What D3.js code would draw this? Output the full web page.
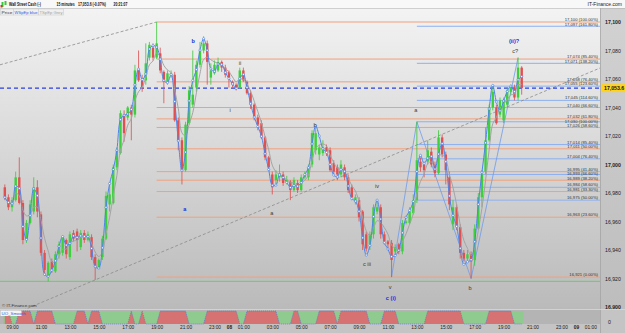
<!DOCTYPE html>
<html>
<head>
<meta charset="utf-8">
<script src="https://cdn.jsdelivr.net/npm/d3@7"></script>
<style>
  body { margin: 0; background: #fff; }
  svg { display: block; font-family: "Liberation Sans", "DejaVu Sans", sans-serif; }
</style>
</head>
<body>
<div id="chart"></div>
<script>
// ---- data ----
var startTime = new Date(2016, 2, 7, 8, 30);   // first 15 min candle
var stepMinutes = 15;

var openP = [
  16984,16977,16970,16975,16991,16973,16947,16959,16967,16984,16965,16938,
  16922,16932,16925,16937,16938,16947,16935,16952,16953,16942,16952,16947,
  16949,16935,16928,16935,16948,16972,16973,16998,17008,17035,17033,17040,
  17035,17066,17059,17059,17075,17082,17075,17078,17065,17058,17063,17063,
  17031,17017,16996,17029,17042,17054,17070,17080,17085,17061,17064,17066,
  17072,17068,17065,17058,17056,17054,17066,17058,17050,17042,17033,17029,
  17019,17005,16993,16989,16991,16993,16988,16988,16982,16987,16982,16991,
  16991,17000,17010,17007,17008,17012,17010,17001,16998,16993,16998,16991,
  16984,16974,16975,16967,16951,16944,16951,16967,16970,16951,16946,16945,
  16939,16944,16939,16959,16959,16966,16975,17002,17000,17002,17009,17000,
  16994,17019,17007,16991,16958,16970,16956,16938,16934,16937,16933,16955,
  16977,16995,17017,17040,17040,17035,17031,17042,17051,17054,17047,17068
];
var highP = [
  16986,16979,16977,16995,17005,16975,16961,16975,16991,16989,16967,16940,
  16932,16934,16939,16946,16950,16948,16953,16954,16955,16954,16954,16953,
  16951,16937,16934,16950,16981,16986,17000,17012,17038,17038,17041,17042,
  17070,17080,17063,17085,17086,17085,17100,17082,17066,17066,17066,17065,
  17033,17019,17030,17055,17080,17073,17086,17090,17087,17071,17073,17075,
  17073,17070,17066,17059,17057,17068,17068,17059,17052,17043,17035,17031,
  17020,17006,16995,16996,17000,16995,16992,16989,16991,16989,16993,16995,
  17000,17024,17026,17014,17017,17014,17012,17003,17000,17003,17000,16993,
  16986,16979,16977,16968,16953,16953,16972,16975,16972,16953,16947,16947,
  16944,16945,16961,16961,16970,16979,17030,17005,17002,17017,17012,17002,
  17024,17021,17009,16995,16975,16972,16958,16940,16940,16939,16958,16980,
  16996,17026,17042,17054,17042,17047,17047,17054,17056,17056,17075,17069
];
var lowP = [
  16975,16968,16967,16974,16972,16944,16945,16958,16965,16963,16936,16922,
  16918,16924,16924,16934,16936,16934,16933,16946,16939,16940,16945,16946,
  16933,16919,16927,16933,16947,16967,16972,16996,17007,17016,17031,17017,
  17033,17058,17051,17056,17073,17073,17074,17064,17043,17056,17061,17030,
  17010,16986,16995,17028,17040,17051,17068,17078,17056,17056,17063,17065,
  17065,17061,17054,17054,17052,17053,17058,17049,17039,17031,17024,17018,
  17003,16996,16979,16986,16988,16985,16986,16975,16981,16980,16981,16990,
  16989,16998,17007,17003,17006,17006,16995,16993,16989,16991,16989,16980,
  16975,16972,16960,16940,16939,16940,16948,16965,16948,16944,16941,16921,
  16937,16937,16937,16958,16958,16965,16973,16995,16991,17000,16998,16991,
  16993,17005,16986,16968,16954,16954,16934,16932,16932,16920,16929,16954,
  16970,16993,17016,17038,17028,17033,17029,17040,17049,17045,17045,17049
];
var closeP = [
  16977,16970,16975,16991,16973,16947,16959,16972,16984,16967,16938,16926,
  16931,16926,16937,16944,16948,16937,16951,16948,16947,16952,16947,16951,
  16935,16928,16933,16948,16978,16979,16998,17010,17036,17022,17040,17035,
  17066,17059,17054,17071,17084,17075,17085,17066,17058,17064,17064,17031,
  17017,16996,17028,17052,17049,17070,17080,17085,17072,17066,17070,17072,
  17068,17063,17061,17056,17054,17066,17059,17050,17042,17033,17028,17019,
  17005,16998,16984,16993,16994,16987,16989,16982,16989,16982,16991,16993,
  16998,17022,17022,17012,17012,17009,16996,16995,16993,17000,16991,16982,
  16977,16977,16963,16944,16941,16951,16970,16970,16951,16946,16944,16933,
  16942,16939,16959,16960,16967,16975,17003,16998,16996,17010,17000,16994,
  17019,17007,16996,16972,16970,16956,16938,16934,16937,16932,16955,16977,
  16993,17017,17040,17051,17029,17045,17045,17052,17054,17047,17068,17053.6
];

// UO_Smooth state per candle: 1 = red block, 0 = green
var uoState = [
  1,1,0,0,1,1,1,1,0,1,1,1,1,1,0,0,0,0,0,0,1,1,1,0,
  1,1,1,0,0,0,0,0,0,0,0,1,0,0,1,0,0,0,0,1,1,1,1,1,
  1,1,1,0,0,0,0,0,1,1,1,1,1,1,1,1,1,0,0,1,1,1,1,1,
  1,1,1,1,0,0,0,0,1,1,0,0,0,0,0,1,1,1,1,1,0,1,1,1,
  1,1,1,1,1,0,0,0,0,1,1,1,1,0,0,0,0,0,0,0,0,1,1,1,
  1,1,1,1,1,1,1,0,0,0,0,0,0,0,1,1,1,1,1,1,1,0,0,0
];

var priceTicks = [17100, 17080, 17060, 17040, 17020, 17000, 16980, 16960, 16940, 16920, 16900];
var boldTicks = [17100, 17000, 16900];
var lastPrice = 17053.6;

// fibonacci levels: [price, label]
var orangeLevels = [
  [17100, "17,100 (100.00%)"], [17074, "17,074 (85.40%)"], [17058, "17,058 (76.40%)"],
  [17040, "17,040 (66.60%)"], [17032, "17,032 (61.80%)"], [17026, "17,026 (58.60%)"],
  [17011, "17,011 (50.00%)"], [16995, "16,995 (41.40%)"], [16989, "16,989 (38.20%)"],
  [16981, "16,981 (33.30%)"], [16963, "16,963 (23.60%)"], [16921, "16,921 (0.00%)"]
];
var orangeStart = 42;   // candle index of the high
var blueLevels = [
  [17097, "17,097 (161.80%)"], [17071, "17,071 (138.20%)"], [17055, "17,055 (123.60%)"],
  [17045, "17,045 (114.60%)"], [17030, "17,030 (100.00%)"], [17014, "17,014 (85.40%)"],
  [17004, "17,004 (76.40%)"], [16993, "16,993 (66.60%)"], [16984, "16,984 (58.60%)"],
  [16975, "16,975 (50.00%)"]
];
var blueStart = 114;
var supportLevel = 16918;

// wave count pivots for the thin zigzag: [candle index, price]
var zigzag = [[107, 16921], [114, 17030], [129, 16920], [142, 17075]];
// dashed trend lines: two points each [candle index, price]
var trendLines = [
  [[-1.3, 17070], [42, 17100]],
  [[25, 16919], [164, 17067]]
];

var waveLabels = [
  {i: 52.1, p: 17087, t: "b", blue: true},
  {i: 49.8, p: 16969, t: "a", blue: true},
  {i: 65.1, p: 17071, t: "ii"},
  {i: 62.3, p: 17038, t: "i"},
  {i: 73.9, p: 16966, t: "a"},
  {i: 85.8, p: 17028, t: "b"},
  {i: 103, p: 16985, t: "iv"},
  {i: 100.2, p: 16930, t: "c iii"},
  {i: 106.6, p: 16914, t: "v"},
  {i: 106.8, p: 16906, t: "c (i)", blue: true},
  {i: 113.7, p: 17038, t: "a"},
  {i: 128.7, p: 16913, t: "b"},
  {i: 140.9, p: 17087, t: "(ii)?", blue: true},
  {i: 141.2, p: 17080, t: "c?"}
];

// ---- layout ----
var W = 625, H = 333;
var plot = {left: 0, right: 600, top: 8, bottom: 309};
var ind = {top: 311, bottom: 324};

var timeOf = function(i) { return new Date(+startTime + i * stepMinutes * 60000); };

var x = d3.scaleTime()
    .domain([new Date(2016, 2, 7, 8, 10), new Date(2016, 2, 9, 1, 40)])
    .range([plot.left, plot.right]);
var y = d3.scaleLinear()
    .domain([16900, 17100])
    .range([307, 22]);
var xi = function(i) { return x(timeOf(i)); };

var svg = d3.select("#chart").append("svg")
    .attr("width", W)
    .attr("height", H);

var defs = svg.append("defs");
var g1 = defs.append("linearGradient").attr("id", "bg").attr("x1", 0).attr("y1", 0).attr("x2", 0).attr("y2", 1);
g1.append("stop").attr("offset", "0%").attr("stop-color", "#f3f3f3");
g1.append("stop").attr("offset", "100%").attr("stop-color", "#bababa");
var g2 = defs.append("linearGradient").attr("id", "axbg").attr("x1", 0).attr("y1", 0).attr("x2", 0).attr("y2", 1);
g2.append("stop").attr("offset", "0%").attr("stop-color", "#d2d2d2");
g2.append("stop").attr("offset", "100%").attr("stop-color", "#bdbdbd");
defs.append("clipPath").attr("id", "clip").append("rect")
    .attr("x", plot.left).attr("y", plot.top)
    .attr("width", plot.right - plot.left).attr("height", plot.bottom - plot.top);

// backgrounds
svg.append("rect").attr("width", W).attr("height", H).attr("fill", "#c4c4c4");
svg.append("rect").attr("x", plot.left).attr("y", plot.top)
    .attr("width", plot.right - plot.left).attr("height", plot.bottom - plot.top)
    .attr("fill", "url(#bg)");
svg.append("rect").attr("x", plot.right).attr("y", plot.top)
    .attr("width", W - plot.right).attr("height", plot.bottom - plot.top)
    .attr("fill", "url(#axbg)");
svg.append("line").attr("x1", plot.right + 0.5).attr("x2", plot.right + 0.5)
    .attr("y1", plot.top).attr("y2", H).attr("stroke", "#9a9a9a").attr("stroke-width", 0.6);
svg.append("rect").attr("x", 0).attr("y", 0).attr("width", W).attr("height", plot.top)
    .attr("fill", "#f8f8f8");
svg.append("line").attr("x1", 0).attr("x2", W).attr("y1", plot.top + 0.5).attr("y2", plot.top + 0.5)
    .attr("stroke", "#aaa").attr("stroke-width", 0.5);

var chart = svg.append("g").attr("clip-path", "url(#clip)");

// fib lines
chart.selectAll(".fib-o")
    .data(orangeLevels)
  .enter().append("line")
    .attr("class", "fib-o")
    .attr("x1", xi(orangeStart)).attr("x2", plot.right)
    .attr("y1", function(d) { return y(d[0]); })
    .attr("y2", function(d) { return y(d[0]); })
    .attr("stroke", "#f1a07c").attr("stroke-width", 1);

chart.selectAll(".fib-b")
    .data(blueLevels)
  .enter().append("line")
    .attr("class", "fib-b")
    .attr("x1", xi(blueStart)).attr("x2", plot.right)
    .attr("y1", function(d) { return y(d[0]); })
    .attr("y2", function(d) { return y(d[0]); })
    .attr("stroke", "#8db0f0").attr("stroke-width", 1);

chart.append("line")
    .attr("x1", plot.left).attr("x2", plot.right)
    .attr("y1", y(supportLevel)).attr("y2", y(supportLevel))
    .attr("stroke", "#5fd35f").attr("stroke-width", 1);

// dashed trend lines, extended across the plot
trendLines.forEach(function(tl, n) {
  var x1 = xi(tl[0][0]), y1 = y(tl[0][1]), x2 = xi(tl[1][0]), y2 = y(tl[1][1]);
  var k = (y2 - y1) / (x2 - x1);
  var ex = n === 0 ? x2 : plot.right;
  chart.append("line")
      .attr("x1", plot.left).attr("y1", y1 + k * (plot.left - x1))
      .attr("x2", ex).attr("y2", y1 + k * (ex - x1))
      .attr("stroke", "#8a8a8a").attr("stroke-width", 0.8)
      .attr("stroke-dasharray", "3,2");
});

// zigzag
chart.append("path")
    .datum(zigzag)
    .attr("fill", "none")
    .attr("stroke", "#6f9ae8")
    .attr("stroke-width", 0.8)
    .attr("d", d3.line().x(function(d) { return xi(d[0]); }).y(function(d) { return y(d[1]); }));

// current price line
chart.append("line")
    .attr("x1", plot.left).attr("x2", plot.right)
    .attr("y1", y(lastPrice)).attr("y2", y(lastPrice))
    .attr("stroke", "#2b3fe0").attr("stroke-width", 1.1)
    .attr("stroke-dasharray", "4,3");

// fib labels, nudged apart where two levels sit close together
var fibLabels = orangeLevels.concat(blueLevels)
    .map(function(d) { return {t: d[1], y: y(d[0]) - 1}; })
    .sort(function(a, b) { return a.y - b.y; });
for (var n = 1; n < fibLabels.length; n++) {
  if (fibLabels[n].y < fibLabels[n - 1].y + 4.6) fibLabels[n].y = fibLabels[n - 1].y + 4.6;
}
svg.append("g").attr("font-size", "4.2px").attr("fill", "#333").attr("text-anchor", "end")
  .selectAll("text")
    .data(fibLabels)
  .enter().append("text")
    .attr("x", plot.right - 2)
    .attr("y", function(d) { return d.y; })
    .text(function(d) { return d.t; });

// candles
var idx = d3.range(closeP.length);
var bodyW = 2.4;
var candle = chart.append("g").selectAll("g")
    .data(idx)
  .enter().append("g");
candle.append("line")
    .attr("x1", function(i) { return xi(i); })
    .attr("x2", function(i) { return xi(i); })
    .attr("y1", function(i) { return y(highP[i]); })
    .attr("y2", function(i) { return y(lowP[i]); })
    .attr("stroke", function(i) { return closeP[i] >= openP[i] ? "#38c838" : "#dc4c4c"; })
    .attr("stroke-width", 0.8);
candle.append("rect")
    .attr("x", function(i) { return xi(i) - bodyW / 2; })
    .attr("width", bodyW)
    .attr("y", function(i) { return y(Math.max(openP[i], closeP[i])); })
    .attr("height", function(i) { return Math.max(0.8, Math.abs(y(openP[i]) - y(closeP[i]))); })
    .attr("fill", function(i) { return closeP[i] >= openP[i] ? "#3cd03c" : "#e05050"; });

// smoothing lines (WSpEp blue / TSpEp grey) computed from the closes
function wma(arr, n) {
  return arr.map(function(d, i) {
    var s = 0, w = 0;
    for (var k = 0; k < n && i - k >= 0; k++) { s += arr[i - k] * (n - k); w += n - k; }
    return s / w;
  });
}
var w2 = wma(closeP, 2), w4 = wma(closeP, 4);
var blueSeries = wma(w2.map(function(d, i) { return 2 * d - w4[i]; }), 2);
var greySeries = wma(closeP, 5);

chart.append("path")
    .datum(idx)
    .attr("fill", "none").attr("stroke", "#a4a4a4").attr("stroke-width", 1)
    .attr("d", d3.line().curve(d3.curveCatmullRom)
      .x(function(i) { return xi(i); }).y(function(i) { return y(greySeries[i]); }));
chart.append("path")
    .datum(idx)
    .attr("fill", "none").attr("stroke", "#4f86ea").attr("stroke-width", 1)
    .attr("d", d3.line().curve(d3.curveCatmullRom)
      .x(function(i) { return xi(i); }).y(function(i) { return y(blueSeries[i]); }));
chart.append("g").selectAll("circle")
    .data(idx)
  .enter().append("circle")
    .attr("cx", function(i) { return xi(i); })
    .attr("cy", function(i) { return y(blueSeries[i]); })
    .attr("r", 1.1)
    .attr("fill", "#fff").attr("stroke", "#3f78e0").attr("stroke-width", 0.6);

// wave labels
svg.append("g").selectAll("text")
    .data(waveLabels)
  .enter().append("text")
    .attr("x", function(d) { return xi(d.i); })
    .attr("y", function(d) { return y(d.p) + 2; })
    .attr("text-anchor", "middle")
    .attr("font-size", "5.6px")
    .attr("font-weight", function(d) { return d.blue ? "bold" : "normal"; })
    .attr("fill", function(d) { return d.blue ? "#1530e0" : "#3a3a3a"; })
    .text(function(d) { return d.t; });

// price axis
var yAxis = svg.append("g")
    .attr("transform", "translate(" + (plot.right + 5) + ",0)")
    .call(d3.axisRight(y).tickValues(priceTicks).tickSize(0).tickPadding(0).tickFormat(d3.format(",")));
yAxis.select(".domain").remove();
yAxis.selectAll("text")
    .attr("font-size", "5.2px")
    .attr("fill", "#222")
    .attr("font-family", "Liberation Sans, sans-serif")
    .attr("font-weight", function(d) { return boldTicks.indexOf(d) >= 0 ? "bold" : "normal"; });

// last price tag
svg.append("rect")
    .attr("x", plot.right + 2).attr("y", y(lastPrice) - 4)
    .attr("width", 23).attr("height", 8).attr("fill", "#ffd21e");
svg.append("text")
    .attr("x", plot.right + 4).attr("y", y(lastPrice) + 2)
    .attr("font-size", "5.2px").attr("font-weight", "bold").attr("fill", "#111")
    .text(d3.format(",.1f")(lastPrice));

// indicator panel
svg.append("rect").attr("x", plot.left).attr("y", ind.top - 1.5)
    .attr("width", plot.right - plot.left).attr("height", ind.bottom - ind.top + 1.5)
    .attr("fill", "#b4b4b4");
svg.append("line").attr("x1", 0).attr("x2", W).attr("y1", ind.top - 1.5).attr("y2", ind.top - 1.5)
    .attr("stroke", "#d8d8d8").attr("stroke-width", 0.8);
svg.append("rect")
    .attr("x", xi(0) - 1.8).attr("y", ind.top)
    .attr("width", xi(closeP.length - 1) - xi(0) + 3.6).attr("height", ind.bottom - ind.top)
    .attr("fill", "#8fca8f");
var iy = d3.scaleLinear().domain([0, 1]).range([ind.bottom, ind.top]);
svg.append("path")
    .datum(idx)
    .attr("fill", "#d77272")
    .attr("d", d3.area()
      .x(function(i) { return xi(i); })
      .y0(ind.bottom)
      .y1(function(i) { return iy(uoState[i]); }));
svg.append("path")
    .datum(idx)
    .attr("fill", "none").attr("stroke", "#4a6fe0").attr("stroke-width", 0.6)
    .attr("stroke-dasharray", "1,1")
    .attr("d", d3.line()
      .x(function(i) { return xi(i); })
      .y(function(i) { return iy(uoState[i]); }));
svg.append("text").attr("x", plot.right + 8).attr("y", 324)
    .attr("font-size", "5.2px").attr("fill", "#222").text("0");

// time axis
var tTicks = d3.timeHour.range(x.domain()[0], x.domain()[1]).filter(function(d) {
  return d.getHours() % 2 === 1 || d.getHours() === 0;
});
var xAxis = svg.append("g")
    .attr("transform", "translate(0," + (ind.bottom + 2) + ")")
    .call(d3.axisBottom(x).tickValues(tTicks).tickSize(0).tickPadding(0)
      .tickFormat(function(d) { return d.getHours() === 0 ? d3.timeFormat("%d")(d) : d3.timeFormat("%H:%M")(d); }));
xAxis.select(".domain").remove();
xAxis.selectAll("text")
    .attr("font-size", "4.8px")
    .attr("fill", "#222")
    .attr("font-family", "Liberation Sans, sans-serif")
    .attr("font-weight", function(d) { return d.getHours() === 0 ? "bold" : "normal"; });

// header (condensed with a horizontal scale, like the small UI font)
var hdr = svg.append("g").attr("font-size", "5px").attr("font-weight", "bold").attr("fill", "#111");
hdr.append("rect").attr("x", 1.5).attr("y", 2).attr("width", 2).attr("height", 5).attr("fill", "#3cc83c");
hdr.append("rect").attr("x", 4.5).attr("y", 1).attr("width", 2).attr("height", 4).attr("fill", "#3cc83c");
hdr.append("rect").attr("x", 0.5).attr("y", 5).attr("width", 2).attr("height", 2.5).attr("fill", "#e03030");
[["Wall Street Cash (-)", 9], ["15 minutes", 56.5], ["17,053.6 (-0.07%)", 78], ["20:21:07", 113.5]]
  .forEach(function(d) {
    hdr.append("text")
        .attr("transform", "translate(" + d[1] + ",6.3) scale(0.7,1)")
        .text(d[0]);
  });
svg.append("text").attr("x", 622).attr("y", 6.3).attr("text-anchor", "end")
    .attr("font-size", "5px").attr("fill", "#222").text("IT-Finance.com");

// legend row
var leg = svg.append("g").attr("font-size", "4.4px");
[["Price", "#333", 0, 13], ["WSpEp blue", "#2a5be8", 13, 25], ["TSpEp Grey", "#a0a0a0", 38, 25]].forEach(function(d) {
  leg.append("rect").attr("x", d[2] + 0.5).attr("y", 9).attr("width", d[3]).attr("height", 6)
      .attr("fill", "#f0f0f0").attr("stroke", "#c8c8c8").attr("stroke-width", 0.5);
  leg.append("text").attr("x", d[2] + 1.5).attr("y", 13.6).attr("fill", d[1])
      .attr("textLength", d[3] - 2).attr("lengthAdjust", "spacingAndGlyphs").text(d[0]);
});

// footer texts
svg.append("text").attr("x", 2).attr("y", 307).attr("font-size", "4.4px").attr("fill", "#333")
    .text("\u00a9 IT-Finance.com");
svg.append("rect").attr("x", 0.5).attr("y", ind.top - 0.5).attr("width", 21).attr("height", 5.5)
    .attr("fill", "#f4f4f4");
svg.append("text").attr("x", 1.5).attr("y", ind.top + 3.8).attr("font-size", "4.4px").attr("fill", "#2a5be8")
    .text("UO_Smooth");
</script>
</body>
</html>
